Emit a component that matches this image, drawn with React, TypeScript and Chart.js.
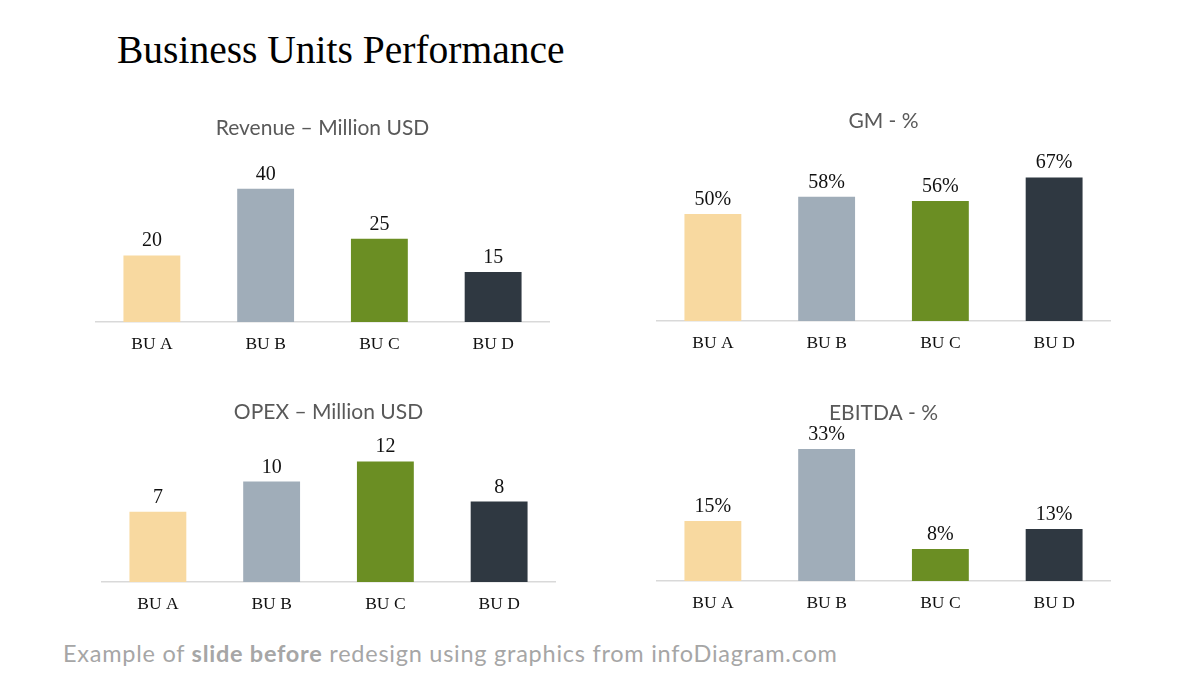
import { useEffect, useRef } from "react";
import { Chart, registerables } from "chart.js";

Chart.register(...registerables);

// Business units shown on every panel
const units = ["BU A", "BU B", "BU C", "BU D"];
const unitColors = ["#F8D9A0", "#A0ADB9", "#6B8E23", "#2F3841"];

// Panel values
const revenue = [20, 40, 25, 15];
const grossMargin = [50, 58, 56, 67];
const opex = [7, 10, 12, 8];
const ebitda = [15, 33, 8, 13];

const SERIF = "'Liberation Serif', 'Times New Roman', serif";
const SANS = "Lato, 'Open Sans', sans-serif";
const TITLE_LH = 24;
const AXIS_H = 40;

type Panel = {
  title: string;
  values: number[];
  suffix: string;
  max: number;
  left: number;
  width: number;
  titleCY: number;
  axisY: number;
  plotH: number;
};

const panels: Panel[] = [
  { title: "Revenue – Million USD", values: revenue, suffix: "", max: 50, left: 95, width: 455, titleCY: 128, axisY: 322, plotH: 166.5 },
  { title: "GM - %", values: grossMargin, suffix: "%", max: 80, left: 656, width: 455, titleCY: 121, axisY: 321, plotH: 171.4 },
  { title: "OPEX – Million USD", values: opex, suffix: "", max: 14, left: 101, width: 455, titleCY: 412, axisY: 582, plotH: 140.7 },
  { title: "EBITDA - %", values: ebitda, suffix: "%", max: 36, left: 656, width: 455, titleCY: 413, axisY: 581, plotH: 144 },
];

// Writes each bar's value just above it
const valueLabels = {
  id: "valueLabels",
  afterDatasetsDraw(chart: any, _args: any, opts: any) {
    const ctx = chart.ctx;
    const meta = chart.getDatasetMeta(0);
    const data = chart.data.datasets[0].data as number[];
    ctx.save();
    ctx.font = `20px ${SERIF}`;
    ctx.fillStyle = "#111111";
    ctx.textAlign = "center";
    ctx.textBaseline = "alphabetic";
    meta.data.forEach((bar: any, i: number) => {
      ctx.fillText(`${data[i]}${opts.suffix || ""}`, bar.x, bar.y - 9);
    });
    ctx.restore();
  },
};

function BarPanel({ p }: { p: Panel }) {
  const ref = useRef<HTMLCanvasElement | null>(null);
  const top = Math.round(p.titleCY - TITLE_LH / 2);
  const height = p.axisY + AXIS_H - top;
  const titleGap = p.axisY - p.plotH - (top + TITLE_LH);

  useEffect(() => {
    if (!ref.current) return;
    const chart = new Chart(ref.current, {
      type: "bar",
      data: {
        labels: units,
        datasets: [
          {
            data: p.values,
            backgroundColor: unitColors,
            borderWidth: 0,
            categoryPercentage: 1,
            barPercentage: 0.5,
          },
        ],
      },
      options: {
        responsive: false,
        animation: false,
        maintainAspectRatio: false,
        layout: { padding: 0 },
        plugins: {
          legend: { display: false },
          tooltip: { enabled: false },
          title: {
            display: true,
            text: p.title,
            color: "#595959",
            font: { family: SANS, size: 21, weight: "normal", lineHeight: `${TITLE_LH}px` },
            padding: { top: 0, bottom: titleGap },
          },
          valueLabels: { suffix: p.suffix },
        } as any,
        scales: {
          x: {
            grid: { display: false, drawTicks: false },
            border: { display: true, color: "#D9D9D9", width: 1.5 },
            ticks: {
              color: "#111111",
              padding: 11.5,
              font: { family: SERIF, size: 17.5, lineHeight: 1.2 },
            },
            afterFit: (scale: any) => {
              scale.height = AXIS_H;
            },
          },
          y: {
            display: false,
            min: 0,
            max: p.max,
          },
        },
      },
      plugins: [valueLabels],
    });
    return () => chart.destroy();
  }, [p, titleGap]);

  return (
    <canvas
      ref={ref}
      width={p.width}
      height={height}
      style={{ position: "absolute", left: p.left, top, width: p.width, height }}
    />
  );
}

export default function App() {
  return (
    <div style={{ position: "absolute", left: 0, top: 0, width: 1200, height: 675, background: "#ffffff", overflow: "hidden" }}>
      <div
        style={{
          position: "absolute",
          left: 117,
          top: 31,
          fontFamily: SERIF,
          fontSize: 39.5,
          lineHeight: 1,
          color: "#000000",
          whiteSpace: "nowrap",
        }}
      >
        Business Units Performance
      </div>
      {panels.map((p) => (
        <BarPanel key={p.title} p={p} />
      ))}
      <div
        style={{
          position: "absolute",
          left: 63,
          top: 639,
          fontFamily: SANS,
          fontSize: 23.5,
          lineHeight: 1.2,
          letterSpacing: 0.75,
          color: "#A6A6A6",
          whiteSpace: "nowrap",
        }}
      >
        Example of <b style={{ fontWeight: 700 }}>slide before</b> redesign using graphics from infoDiagram.com
      </div>
    </div>
  );
}
